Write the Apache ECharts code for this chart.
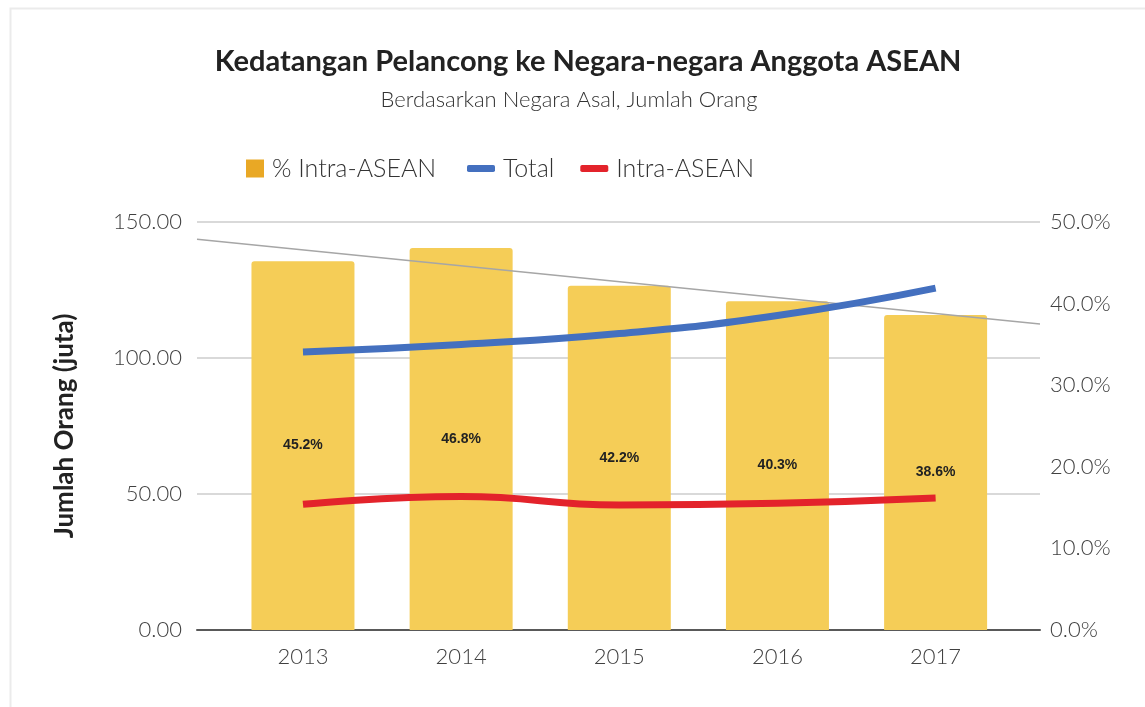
<!DOCTYPE html>
<html><head><meta charset="utf-8">
<script src="https://cdn.jsdelivr.net/npm/echarts@6/dist/echarts.min.js"></script>
<style>html,body{margin:0;padding:0;background:#fff}#c{width:1145px;height:707px}</style>
</head><body><div id="c"></div>
<script>
const years = ['2013','2014','2015','2016','2017'];
const pctIntra = [45.2, 46.8, 42.2, 40.3, 38.6];
const total = [102.2, 105.0, 109.0, 115.6, 125.7];
const intra = [46.2, 49.1, 46.0, 46.6, 48.5];
const trendEnds = [47.9, 37.5];
const leftTicks = [0, 50, 100, 150];

const xMin = -0.67, xMax = 4.66;
const font = 'Lato';
const chart = echarts.init(document.getElementById('c'));
chart.setOption({
  backgroundColor: '#fff',
  animation: false,
  graphic: [{type:'rect', shape:{x:10.5,y:8.5,width:1300,height:900}, style:{fill:'none', stroke:'#ebebeb', lineWidth:2}, silent:true, z:-10}],
  title: [{
    text: 'Kedatangan Pelancong ke Negara-negara Anggota ASEAN',
    left: 583, top: 42, textAlign: 'center',
    textStyle: {fontFamily: font, fontWeight: 'bold', fontSize: 29, color: '#222'}
  }, {
    text: 'Berdasarkan Negara Asal, Jumlah Orang',
    left: 564, top: 84, textAlign: 'center',
    textStyle: {fontFamily: font, fontWeight: 300, fontSize: 22, color: '#333'}
  }],
  legend: [{
    left: 241, top: 151, itemWidth: 18, itemHeight: 18, itemGap: 20,
    data: [{name: '% Intra-ASEAN', icon: 'rect', itemStyle: {color: '#e9a825'}}],
    textStyle: {fontFamily: font, fontWeight: 300, fontSize: 25, color: '#333', padding:[0,0,0,3]}
  }, {
    left: 462, top: 151, itemWidth: 28, itemHeight: 7, itemGap: 26,
    data: [{name: 'Total', icon: 'roundRect'}, {name: 'Intra-ASEAN', icon: 'roundRect'}],
    textStyle: {fontFamily: font, fontWeight: 300, fontSize: 25, color: '#333', padding:[0,0,0,3]}
  }],
  grid: {left: 197, right: 105, top: 222, bottom: 77},
  xAxis: {
    type: 'value', min: xMin, max: xMax,
    splitLine: {show: false},
    axisTick: {show: false},
    axisLine: {show: true, onZero: false, lineStyle: {color: '#595959', width: 2}},
    axisLabel: {customValues: [0,1,2,3,4], formatter: v => years[Math.round(v)] || '', fontFamily: font, fontWeight: 300, fontSize: 22, color: '#404040', margin: 16, showMinLabel: true, showMaxLabel: true}
  },
  yAxis: [{
    type: 'value', min: 0, max: 150, interval: 50,
    name: 'Jumlah Orang (juta)', nameLocation: 'middle', nameGap: 119, nameRotate: 90,
    nameTextStyle: {fontFamily: font, fontWeight: 'bold', fontSize: 26, color: '#222'},
    axisLine: {show: false}, axisTick: {show: false},
    splitLine: {show: true, lineStyle: {color: '#d9d9d9', width: 2}},
    axisLabel: {formatter: v => v.toFixed(2), fontFamily: font, fontWeight: 300, fontSize: 22, color: '#404040', margin: 15}
  }, {
    type: 'value', min: 0, max: 50, interval: 10, position: 'right',
    axisLine: {show: false}, axisTick: {show: false}, splitLine: {show: false},
    axisLabel: {formatter: v => v.toFixed(1) + '%', fontFamily: font, fontWeight: 300, fontSize: 22, color: '#404040', margin: 10, align: 'left'}
  }],
  series: [{
    name: '% Intra-ASEAN', type: 'bar', yAxisIndex: 1, barWidth: 103,
    data: pctIntra.map((v, i) => [i, v]),
    itemStyle: {color: '#f5cd57', borderRadius: [3,3,0,0]},
    label: {show: true, position: 'inside', formatter: p => p.value[1].toFixed(1) + '%', fontFamily: 'Liberation Sans, Arial', fontWeight: 'bold', fontSize: 14, color: '#222'},
    z: 1
  }, {
    name: 'Trend', type: 'line', yAxisIndex: 1, silent: true, symbol: 'none',
    data: [[xMin, trendEnds[0]], [xMax, trendEnds[1]]],
    lineStyle: {color: '#a6a6a6', width: 1.5}, z: 2
  }, {
    name: 'Total', type: 'line', yAxisIndex: 0, smooth: true, symbol: 'none',
    data: total.map((v, i) => [i, v]),
    itemStyle: {color: '#4470bf'}, lineStyle: {color: '#4470bf', width: 7}, z: 3
  }, {
    name: 'Intra-ASEAN', type: 'line', yAxisIndex: 0, smooth: true, symbol: 'none',
    data: intra.map((v, i) => [i, v]),
    itemStyle: {color: '#e3232b'}, lineStyle: {color: '#e3232b', width: 7}, z: 3
  }]
});
</script></body></html>
